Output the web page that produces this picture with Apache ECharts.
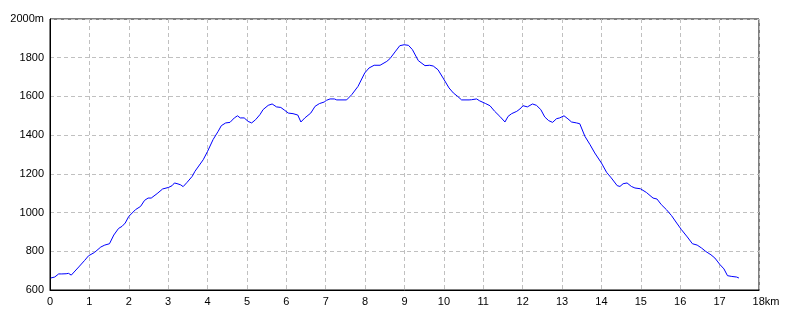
<!DOCTYPE html>
<html>
<head>
<meta charset="utf-8">
<script src="https://cdn.jsdelivr.net/npm/echarts@6/dist/echarts.min.js"></script>
<style>html,body{margin:0;padding:0;background:#fff;}#c{width:800px;height:320px;}</style>
</head>
<body>
<div id="c"></div>
<script>
var distanceKm = [0.02,0.12,0.22,0.30,0.35,0.41,0.47,0.54,0.59,0.73,0.88,0.98,1.13,1.29,1.39,1.51,1.62,1.74,1.83,1.91,2.00,2.17,2.30,2.40,2.49,2.57,2.72,2.86,3.01,3.10,3.16,3.25,3.32,3.38,3.48,3.61,3.68,3.89,4.00,4.14,4.27,4.35,4.46,4.57,4.68,4.76,4.83,4.93,5.03,5.12,5.22,5.33,5.41,5.54,5.64,5.75,5.86,5.96,6.05,6.17,6.29,6.37,6.47,6.62,6.73,6.84,6.96,7.02,7.11,7.22,7.28,7.53,7.66,7.82,7.99,8.10,8.23,8.38,8.43,8.55,8.63,8.76,8.88,8.99,9.10,9.20,9.35,9.52,9.64,9.73,9.85,9.98,10.13,10.24,10.35,10.45,10.64,10.70,10.83,10.91,11.06,11.17,11.29,11.42,11.55,11.63,11.72,11.85,11.93,12.01,12.12,12.25,12.35,12.46,12.56,12.66,12.76,12.86,12.94,13.05,13.15,13.24,13.37,13.45,13.58,13.71,13.83,14.00,14.13,14.25,14.40,14.47,14.55,14.65,14.76,14.85,14.99,15.14,15.31,15.41,15.52,15.65,15.78,15.91,16.03,16.18,16.31,16.43,16.54,16.65,16.78,16.88,17.01,17.11,17.20,17.31,17.43,17.49];
var elevationM = [662,667,683,683,674,684,686,677,674,719,753,777,794,822,832,839,884,918,929,946,980,1015,1032,1063,1075,1075,1098,1122,1130,1139,1153,1148,1143,1134,1156,1187,1213,1273,1316,1377,1420,1449,1463,1466,1489,1500,1489,1489,1471,1463,1480,1506,1532,1554,1561,1546,1543,1528,1514,1511,1504,1468,1489,1514,1549,1563,1571,1580,1587,1587,1582,1582,1609,1652,1721,1747,1761,1761,1755,1781,1795,1830,1862,1867,1864,1842,1785,1759,1761,1757,1738,1695,1644,1618,1600,1582,1582,1583,1587,1577,1563,1552,1523,1497,1468,1497,1511,1523,1535,1552,1546,1561,1554,1532,1494,1475,1466,1485,1489,1500,1484,1468,1463,1459,1394,1351,1308,1256,1208,1179,1139,1135,1149,1153,1135,1127,1123,1104,1075,1070,1041,1015,984,946,912,874,839,832,817,799,782,765,731,709,674,670,667,662];
var xMax = 18, yMin = 600, yMax = 2000;
var xUnit = 'km', yUnit = 'm';

var chart = echarts.init(document.getElementById('c'), null, {renderer: 'canvas'});
var seriesData = distanceKm.map(function (d, i) { return [d, elevationM[i]]; });
var labelFont = {color: '#000', fontSize: 11, fontFamily: 'Liberation Sans, Arial, sans-serif'};
var gridLine = {show: true, lineStyle: {color: '#c0c0c0', type: [4, 3], width: 1}};
chart.setOption({
  animation: false,
  backgroundColor: '#fff',
  grid: {left: 50, right: 41, top: 19, bottom: 30, show: true, borderColor: '#000', borderWidth: 1, backgroundColor: 'transparent'},
  xAxis: {
    type: 'value', min: 0, max: xMax, interval: 1,
    axisLine: {show: true, lineStyle: {color: '#000', width: 1}},
    axisTick: {show: false},
    splitLine: gridLine,
    axisLabel: Object.assign({
      margin: 6,
      formatter: function (v) { return v === xMax ? '{s|}' + v + xUnit : String(v); },
      rich: {s: {width: 14}}
    }, labelFont)
  },
  yAxis: {
    type: 'value', min: yMin, max: yMax, interval: 200,
    axisLine: {show: true, lineStyle: {color: '#000', width: 1}},
    axisTick: {show: false},
    splitLine: gridLine,
    axisLabel: Object.assign({margin: 6, formatter: function (v) { return v === yMax ? v + yUnit : String(v); }}, labelFont)
  },
  series: [{
    type: 'line',
    data: seriesData,
    showSymbol: false,
    symbol: 'none',
    lineStyle: {color: '#0000ff', width: 1},
    itemStyle: {color: '#0000ff'}
  }]
});
</script>
</body>
</html>
